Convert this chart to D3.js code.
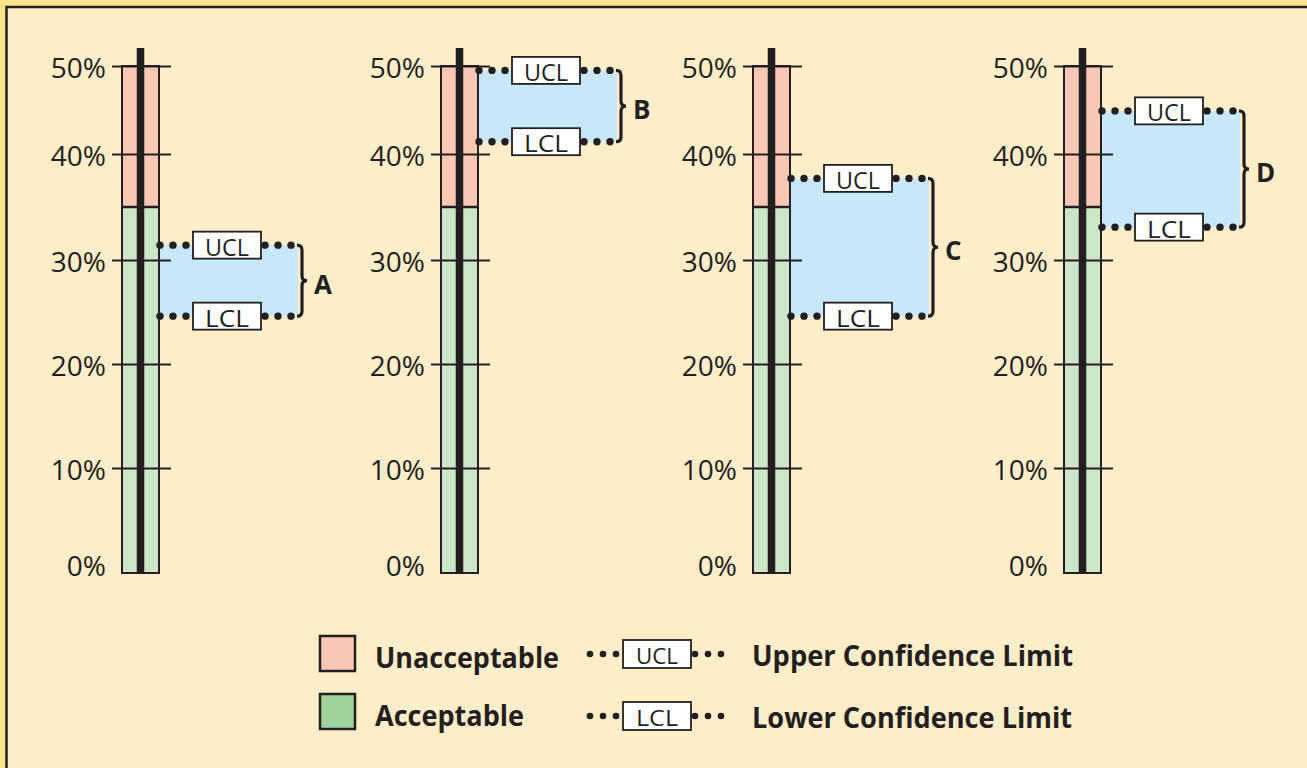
<!DOCTYPE html>
<html>
<head>
<meta charset="utf-8">
<script src="https://cdn.jsdelivr.net/npm/d3@7"></script>
<style>
  html, body { margin: 0; padding: 0; background: #ffe48e; }
  svg { display: block; }
</style>
</head>
<body>
<svg id="chart" width="1307" height="768"></svg>
<script>
// ---------- data ----------
const panels = ["A", "B", "C", "D"];
const uclValues = [31.4, 49.5, 37.7, 44.9];
const lclValues = [24.6, 41.4, 24.6, 33.1];
const acceptableLimit = 35;
const axisMax = 50;
const tickValues = [0, 10, 20, 30, 40, 50];
const tickLabels = ["0%", "10%", "20%", "30%", "40%", "50%"];
const legendSwatchLabels = ["Unacceptable", "Acceptable"];
const legendLimitCodes = ["UCL", "LCL"];
const legendLimitLabels = ["Upper Confidence Limit", "Lower Confidence Limit"];

// ---------- style ----------
const C = {
  dark: "#231f20",
  cream: "#feedc9",
  red: "#f9c8b5",
  green: "#cde6c9",
  greenLegend: "#9fd39c",
  blue: "#c6e8f8",
  white: "#ffffff"
};
const FONT = "'Open Sans', 'DejaVu Sans', sans-serif";

const svg = d3.select("#chart");

// frame
svg.append("rect").attr("x", 6.5).attr("y", 7).attr("width", 1400).attr("height", 900)
  .attr("fill", C.cream).attr("stroke", C.dark).attr("stroke-width", 2.5);

// ---------- scales ----------
const y = d3.scaleLinear()
  .domain(tickValues)
  .range([573, 468, 364, 260, 154, 66]);

const barLeft = d3.scaleOrdinal().domain(panels).range([122, 441, 753, 1064]);
const barW = 37;

panels.forEach((p, i) => {
  const g = svg.append("g");
  const x0 = barLeft(p);
  const x1 = x0 + barW;
  const xc = x0 + barW / 2;
  const yU = y(uclValues[i]);
  const yL = y(lclValues[i]);

  // bars: acceptable (green) and unacceptable (red)
  g.append("rect").attr("x", x0).attr("y", y(acceptableLimit)).attr("width", barW)
    .attr("height", y(0) - y(acceptableLimit)).attr("fill", C.green);
  g.append("rect").attr("x", x0).attr("y", y(axisMax)).attr("width", barW)
    .attr("height", y(acceptableLimit) - y(axisMax)).attr("fill", C.red);

  // confidence band
  g.append("rect").attr("x", x1).attr("y", yU).attr("width", 139)
    .attr("height", yL - yU).attr("fill", C.blue);

  // bar outlines
  g.append("rect").attr("x", x0).attr("y", y(axisMax)).attr("width", barW)
    .attr("height", y(0) - y(axisMax)).attr("fill", "none")
    .attr("stroke", C.dark).attr("stroke-width", 2);
  g.append("line").attr("x1", x0).attr("x2", x1)
    .attr("y1", y(acceptableLimit)).attr("y2", y(acceptableLimit))
    .attr("stroke", C.dark).attr("stroke-width", 2.5);

  // ticks via d3 axis
  const ax = g.append("g").attr("transform", `translate(${x0 + 49},0)`)
    .call(d3.axisLeft(y).tickValues(tickValues.filter(v => v > 0)).tickSize(59).tickFormat(""));
  ax.select(".domain").remove();
  ax.selectAll(".tick line").attr("stroke", C.dark).attr("stroke-width", 2);

  // tick labels
  g.selectAll("text.tl").data(tickValues).enter().append("text")
    .attr("class", "tl")
    .attr("x", x0 - 16)
    .attr("y", v => y(v) + (v === 0 ? -8 : 1))
    .attr("text-anchor", "end")
    .attr("dominant-baseline", "central")
    .attr("font-family", FONT).attr("font-size", 28)
    .attr("fill", C.dark)
    .text((v, k) => tickLabels[k]);

  // center thick line
  g.append("line").attr("x1", xc).attr("x2", xc)
    .attr("y1", y(axisMax) - 18).attr("y2", y(0))
    .attr("stroke", C.dark).attr("stroke-width", 7.5);

  // limit lines with dots and boxes
  [[yU, "UCL"], [yL, "LCL"]].forEach(([yy, code]) => {
    const dots = [1, 14, 27, 106, 119, 132];
    dots.forEach(d => g.append("circle").attr("cx", x1 + d).attr("cy", yy).attr("r", 3.7).attr("fill", C.dark));
    g.append("rect").attr("x", x1 + 34).attr("y", yy - 13.5).attr("width", 68).attr("height", 27)
      .attr("fill", C.white).attr("stroke", C.dark).attr("stroke-width", 1.8);
    g.append("text").attr("x", x1 + 68).attr("y", yy + 1).attr("text-anchor", "middle")
      .attr("dominant-baseline", "central")
      .attr("font-family", FONT).attr("font-size", 24).attr("fill", C.dark)
      .attr("textLength", 44).attr("lengthAdjust", "spacingAndGlyphs").text(code);
  });

  // curly brace
  const bx = x1 + 138, ym = (yU + yL) / 2, r = 5;
  const brace = `M${bx},${yU} Q${bx + r},${yU} ${bx + r},${yU + r} L${bx + r},${ym - r} Q${bx + r},${ym} ${bx + 2 * r},${ym}`
    + ` Q${bx + r},${ym} ${bx + r},${ym + r} L${bx + r},${yL - r} Q${bx + r},${yL} ${bx},${yL}`;
  g.append("path").attr("d", brace).attr("fill", "none").attr("stroke", C.dark).attr("stroke-width", 3.2);

  g.append("text").attr("x", x1 + 155).attr("y", ym + 3).attr("dominant-baseline", "central")
    .attr("font-family", FONT).attr("font-weight", "bold").attr("font-size", 26)
    .attr("fill", C.dark).text(p);
});

// ---------- legend ----------
const lg = svg.append("g");
const swatchColors = [C.red, C.greenLegend];
const rowY = d3.scaleOrdinal().domain([0, 1]).range([653, 711]);
const labelWidths = [184, 149];
legendSwatchLabels.forEach((lab, i) => {
  lg.append("rect").attr("x", 320).attr("y", rowY(i) - 17).attr("width", 35).attr("height", 35)
    .attr("fill", swatchColors[i]).attr("stroke", C.dark).attr("stroke-width", 2.5);
  lg.append("text").attr("x", 375).attr("y", rowY(i) + 15)
    .attr("font-family", FONT).attr("font-weight", "bold").attr("font-size", 28)
    .attr("textLength", labelWidths[i]).attr("lengthAdjust", "spacingAndGlyphs")
    .attr("fill", C.dark).text(lab);
});
const descWidths = [321, 320];
legendLimitCodes.forEach((code, i) => {
  const yy = rowY(i) + 1 + i * 4;
  [590, 603, 616, 695, 708, 721].forEach(cx =>
    lg.append("circle").attr("cx", cx).attr("cy", yy).attr("r", 3.3).attr("fill", C.dark));
  lg.append("rect").attr("x", 623).attr("y", yy - 14).attr("width", 68).attr("height", 28)
    .attr("fill", C.white).attr("stroke", C.dark).attr("stroke-width", 1.8);
  lg.append("text").attr("x", 657).attr("y", yy + 1).attr("text-anchor", "middle")
    .attr("dominant-baseline", "central")
    .attr("font-family", FONT).attr("font-size", 22)
    .attr("textLength", 42).attr("lengthAdjust", "spacingAndGlyphs")
    .attr("fill", C.dark).text(code);
  lg.append("text").attr("x", 752).attr("y", yy + 12)
    .attr("font-family", FONT).attr("font-weight", "bold").attr("font-size", 28)
    .attr("textLength", descWidths[i]).attr("lengthAdjust", "spacingAndGlyphs")
    .attr("fill", C.dark).text(legendLimitLabels[i]);
});
</script>
</body>
</html>
